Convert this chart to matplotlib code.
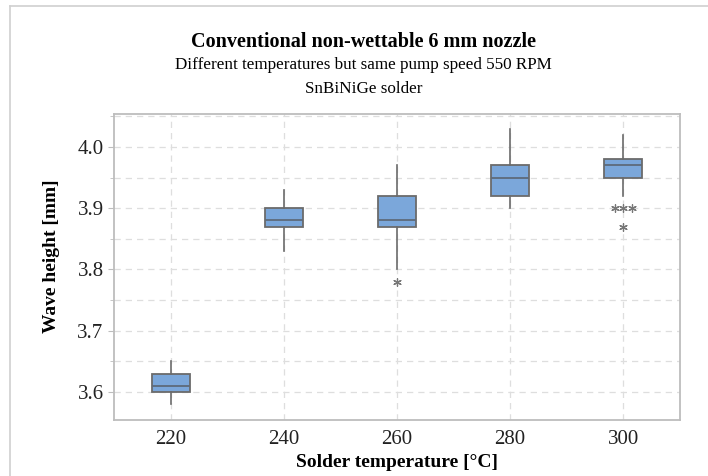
import matplotlib
matplotlib.use("Agg")
import matplotlib.pyplot as plt
from matplotlib.lines import Line2D
from matplotlib.ticker import MultipleLocator

plt.rcParams['font.family'] = ['Liberation Serif', 'DejaVu Serif']

# data
temps = [220, 240, 260, 280, 300]
q1 = [3.60, 3.87, 3.87, 3.92, 3.95]
med = [3.61, 3.88, 3.88, 3.95, 3.97]
q3 = [3.63, 3.90, 3.92, 3.97, 3.98]
wlo = [3.58, 3.83, 3.80, 3.90, 3.92]
whi = [3.65, 3.93, 3.97, 4.03, 4.02]
out_x = [260, 298.5, 300, 301.5, 300]
out_y = [3.78, 3.90, 3.90, 3.90, 3.87]

fig = plt.figure(figsize=(7.08, 4.76), dpi=100)
ax = fig.add_axes([0.161, 0.1176, 0.799, 0.643])

stats = []
for i in range(len(temps)):
    stats.append(dict(med=med[i], q1=q1[i], q3=q3[i],
                      whislo=wlo[i], whishi=whi[i], fliers=[]))

ax.bxp(stats, positions=temps, widths=6.7, showcaps=False,
       patch_artist=True,
       boxprops=dict(facecolor='#7ba7da', edgecolor='#6b6b6b', linewidth=1.3),
       medianprops=dict(color='#5e6b7a', linewidth=1.3),
       whiskerprops=dict(color='#6b6b6b', linewidth=1.2),
       zorder=3)

ax.scatter(out_x, out_y, marker=(6, 2, 0), s=30, color='#777777',
           linewidths=0.9, zorder=3)

ax.set_xlim(210, 310)
ax.set_ylim(3.554, 4.054)
ax.set_xticks(temps)
ax.set_xticklabels([str(t) for t in temps])
ax.yaxis.set_major_locator(MultipleLocator(0.1))
ax.yaxis.set_minor_locator(MultipleLocator(0.05))
ax.set_yticks([3.6, 3.7, 3.8, 3.9, 4.0])
ax.set_yticklabels(['3.6', '3.7', '3.8', '3.9', '4.0'])

ax.grid(True, which='both', axis='y', linestyle=(0, (5, 4)),
        color='#dedede', linewidth=0.9, zorder=0)
ax.grid(True, which='major', axis='x', linestyle=(0, (5, 4)),
        color='#dedede', linewidth=0.9, zorder=0)
ax.set_axisbelow(True)

for s in ax.spines.values():
    s.set_color('#bdbdbd')
    s.set_linewidth(1.3)
ax.tick_params(axis='both', which='major', labelsize=15, color='#bdbdbd',
               length=4, labelcolor='#222222')
ax.tick_params(axis='x', length=0, pad=7)
ax.tick_params(axis='y', which='minor', length=3, color='#bdbdbd')

ax.set_xlabel('Solder temperature [°C]', fontsize=14, fontweight='bold',
              labelpad=4)
ax.set_ylabel('Wave height [mm]', fontsize=14, fontweight='bold')
ax.yaxis.set_label_coords(-0.095, 0.536)

fig.text(0.514, 0.912, 'Conventional non-wettable 6 mm nozzle',
         ha='center', va='center', fontsize=14.5, fontweight='bold')
fig.text(0.514, 0.864, 'Different temperatures but same pump speed 550 RPM',
         ha='center', va='center', fontsize=12.3)
fig.text(0.514, 0.813, 'SnBiNiGe solder',
         ha='center', va='center', fontsize=12.3)

# outer frame (only the top and left edges fall inside the image)
fig.add_artist(Line2D([0.0141, 1.0], [0.987, 0.987], color='#d0d0d0',
                      linewidth=1.2, transform=fig.transFigure))
fig.add_artist(Line2D([0.0141, 0.0141], [0.0, 0.987], color='#d0d0d0',
                      linewidth=1.2, transform=fig.transFigure))

fig.savefig('out.png', dpi=100)
